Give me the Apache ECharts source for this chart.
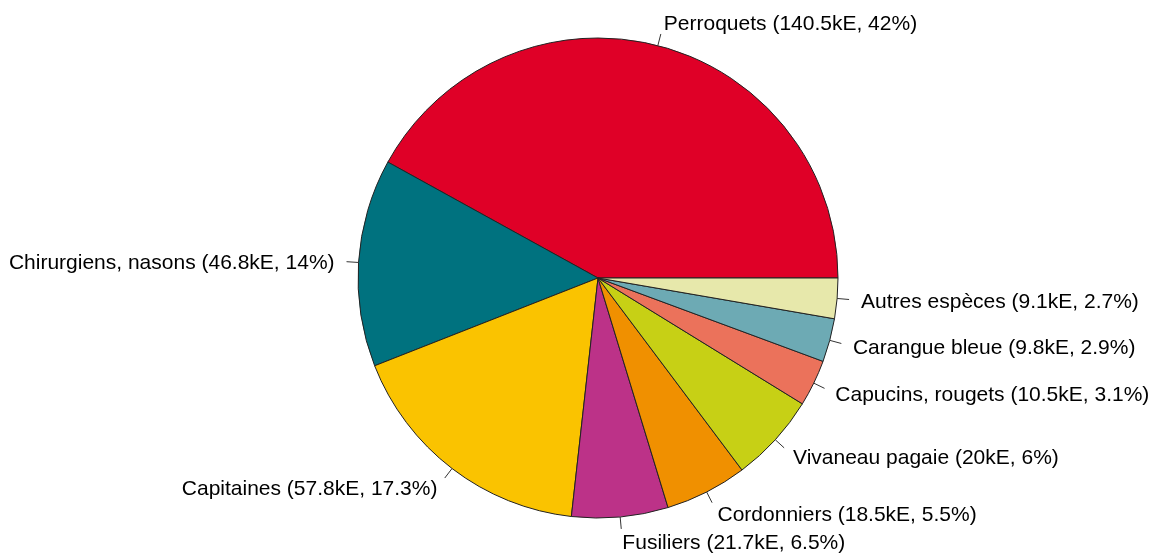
<!DOCTYPE html>
<html>
<head>
<meta charset="utf-8">
<script src="https://cdn.jsdelivr.net/npm/echarts@6/dist/echarts.min.js"></script>
<style>
  html, body { margin: 0; padding: 0; background: #fff; }
  #chart { width: 1158px; height: 554px; }
</style>
</head>
<body>
<div id="chart"></div>
<script>
// catch by family, in kE (R pie order: counter-clockwise from 3 o'clock)
const species = [
  "Perroquets", "Chirurgiens, nasons", "Capitaines", "Fusiliers",
  "Cordonniers", "Vivaneau pagaie", "Capucins, rougets", "Carangue bleue", "Autres espèces"
];
const catchKE = [140.5, 46.8, 57.8, 21.7, 18.5, 20, 10.5, 9.8, 9.1];
const sliceColors = [
  "#DF0027", "#00727F", "#FAC300", "#BC3288", "#F09000",
  "#C7D015", "#EB725B", "#6DAAB4", "#E7E8AB"
];

const CX = 598, CY = 278, R = 240;

const total = catchKE.reduce((a, b) => a + b, 0);
const pct = (v) => Math.round((v / total) * 1000) / 10;

// mid angle of each slice, like R's pie(): ccw from 3 o'clock
const midAngles = [];
let cum = 0;
catchKE.forEach((v) => {
  midAngles.push(2 * Math.PI * (cum + v / 2) / total);
  cum += v;
});

const chart = echarts.init(document.getElementById("chart"));
chart.setOption({
  animation: false,
  series: [{
    type: "pie",
    center: [CX, CY],
    radius: R,
    startAngle: 0,
    clockwise: false,
    avoidLabelOverlap: false,
    itemStyle: { borderColor: "#222", borderWidth: 1 },
    label: {
      show: true,
      position: "outside",
      fontFamily: "Liberation Sans, Arial, sans-serif",
      fontSize: 21,
      color: "#000",
      formatter: (p) => `${p.name} (${p.value}kE, ${pct(p.value)}%)`
    },
    labelLine: {
      show: true,
      length: 12,
      length2: 1,
      lineStyle: { color: "#333", width: 1 }
    },
    // R places text at 1.1r, tick from r to 1.05r
    labelLayout: (params) => {
      const a = midAngles[params.dataIndex];
      const c = Math.cos(a), s = Math.sin(a);
      return {
        x: CX + 1.1 * R * c,
        y: CY - 1.1 * R * s + 2,
        align: c >= 0 ? "left" : "right",
        verticalAlign: "middle",
        labelLinePoints: [
          [CX + R * c, CY - R * s],
          [CX + 1.05 * R * c, CY - 1.05 * R * s],
          [CX + 1.05 * R * c, CY - 1.05 * R * s]
        ]
      };
    },
    emphasis: { disabled: true },
    data: species.map((name, i) => ({
      name,
      value: catchKE[i],
      itemStyle: { color: sliceColors[i] }
    }))
  }]
});
</script>
</body>
</html>
